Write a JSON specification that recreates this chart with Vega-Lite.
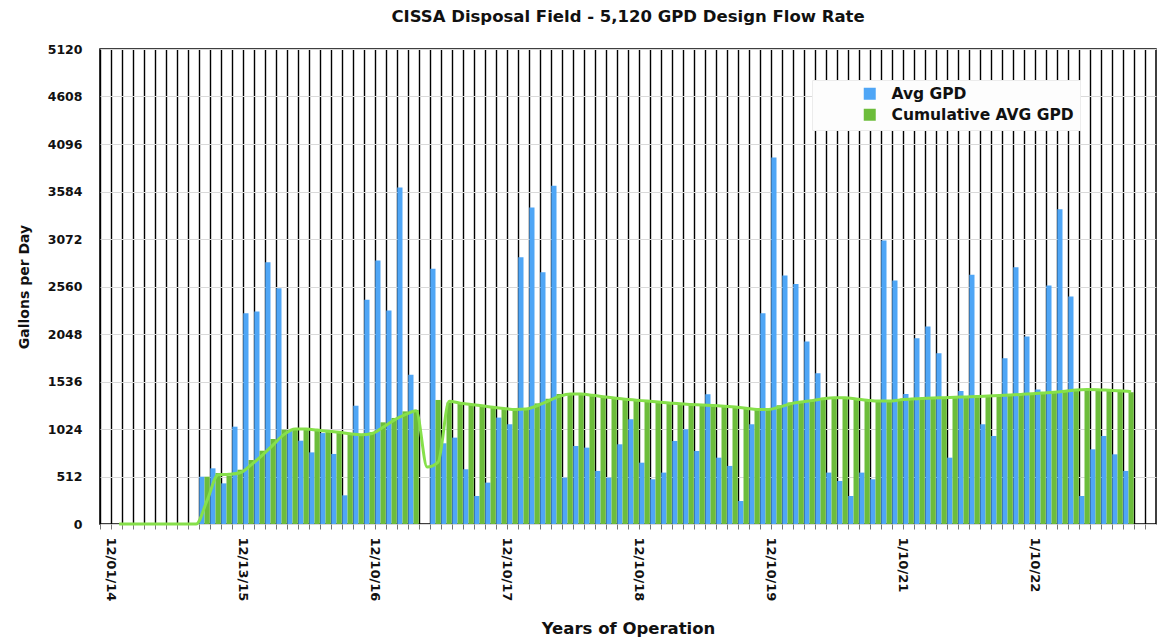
{
  "$schema": "https://vega.github.io/schema/vega-lite/v6.json",
  "autosize": "none",
  "padding": {"left": 100, "top": 49, "right": 4, "bottom": 118},
  "width": 1056,
  "height": 475,
  "title": {"text": "CISSA Disposal Field - 5,120 GPD Design Flow Rate", "font": "DejaVu Sans", "fontSize": 16.5, "fontWeight": "bold", "color": "#111", "offset": 18},
  "config": {
    "view": {"stroke": "black", "strokeWidth": 1.5},
    "font": "DejaVu Sans"
  },
  "data": {"values": [
    {"m":1,"avg":0,"cum":0,"trend":null},
    {"m":2,"avg":0,"cum":0,"trend":0},
    {"m":3,"avg":0,"cum":0,"trend":0},
    {"m":4,"avg":0,"cum":0,"trend":0},
    {"m":5,"avg":0,"cum":0,"trend":0},
    {"m":6,"avg":0,"cum":0,"trend":0},
    {"m":7,"avg":0,"cum":0,"trend":0},
    {"m":8,"avg":0,"cum":0,"trend":0},
    {"m":9,"avg":0,"cum":0,"trend":0},
    {"m":10,"avg":510,"cum":510,"trend":255},
    {"m":11,"avg":600,"cum":550,"trend":530},
    {"m":12,"avg":438,"cum":520,"trend":535},
    {"m":13,"avg":1049,"cum":585,"trend":552},
    {"m":14,"avg":2272,"cum":690,"trend":638},
    {"m":15,"avg":2290,"cum":790,"trend":740},
    {"m":16,"avg":2822,"cum":916,"trend":853},
    {"m":17,"avg":2542,"cum":1017,"trend":966},
    {"m":18,"avg":1010,"cum":1030,"trend":1024},
    {"m":19,"avg":898,"cum":1017,"trend":1024},
    {"m":20,"avg":772,"cum":1006,"trend":1012},
    {"m":21,"avg":980,"cum":995,"trend":1000},
    {"m":22,"avg":755,"cum":981,"trend":988},
    {"m":23,"avg":309,"cum":963,"trend":972},
    {"m":24,"avg":1275,"cum":963,"trend":963},
    {"m":25,"avg":2416,"cum":990,"trend":976},
    {"m":26,"avg":2840,"cum":1096,"trend":1043},
    {"m":27,"avg":2300,"cum":1143,"trend":1120},
    {"m":28,"avg":3627,"cum":1214,"trend":1178},
    {"m":29,"avg":1610,"cum":1230,"trend":1222},
    {"m":30,"avg":0,"cum":0,"trend":615},
    {"m":31,"avg":2750,"cum":1337,"trend":668},
    {"m":32,"avg":870,"cum":1310,"trend":1324},
    {"m":33,"avg":931,"cum":1295,"trend":1302},
    {"m":34,"avg":590,"cum":1283,"trend":1289},
    {"m":35,"avg":302,"cum":1265,"trend":1274},
    {"m":36,"avg":446,"cum":1250,"trend":1258},
    {"m":37,"avg":1147,"cum":1240,"trend":1245},
    {"m":38,"avg":1075,"cum":1230,"trend":1235},
    {"m":39,"avg":2876,"cum":1250,"trend":1240},
    {"m":40,"avg":3412,"cum":1300,"trend":1275},
    {"m":41,"avg":2714,"cum":1350,"trend":1325},
    {"m":42,"avg":3645,"cum":1400,"trend":1375},
    {"m":43,"avg":500,"cum":1405,"trend":1402},
    {"m":44,"avg":841,"cum":1395,"trend":1400},
    {"m":45,"avg":823,"cum":1380,"trend":1388},
    {"m":46,"avg":572,"cum":1365,"trend":1372},
    {"m":47,"avg":500,"cum":1350,"trend":1358},
    {"m":48,"avg":859,"cum":1340,"trend":1345},
    {"m":49,"avg":1129,"cum":1330,"trend":1335},
    {"m":50,"avg":661,"cum":1320,"trend":1325},
    {"m":51,"avg":482,"cum":1310,"trend":1315},
    {"m":52,"avg":554,"cum":1300,"trend":1305},
    {"m":53,"avg":895,"cum":1290,"trend":1295},
    {"m":54,"avg":1021,"cum":1285,"trend":1288},
    {"m":55,"avg":787,"cum":1280,"trend":1282},
    {"m":56,"avg":1398,"cum":1275,"trend":1278},
    {"m":57,"avg":715,"cum":1265,"trend":1270},
    {"m":58,"avg":626,"cum":1255,"trend":1260},
    {"m":59,"avg":248,"cum":1240,"trend":1248},
    {"m":60,"avg":1075,"cum":1230,"trend":1235},
    {"m":61,"avg":2272,"cum":1240,"trend":1235},
    {"m":62,"avg":3951,"cum":1280,"trend":1260},
    {"m":63,"avg":2678,"cum":1310,"trend":1295},
    {"m":64,"avg":2588,"cum":1320,"trend":1315},
    {"m":65,"avg":1966,"cum":1340,"trend":1330},
    {"m":66,"avg":1625,"cum":1360,"trend":1350},
    {"m":67,"avg":554,"cum":1365,"trend":1362},
    {"m":68,"avg":464,"cum":1355,"trend":1360},
    {"m":69,"avg":302,"cum":1340,"trend":1348},
    {"m":70,"avg":554,"cum":1330,"trend":1335},
    {"m":71,"avg":482,"cum":1320,"trend":1325},
    {"m":72,"avg":3056,"cum":1330,"trend":1325},
    {"m":73,"avg":2624,"cum":1345,"trend":1338},
    {"m":74,"avg":1400,"cum":1350,"trend":1348},
    {"m":75,"avg":2002,"cum":1355,"trend":1352},
    {"m":76,"avg":2128,"cum":1360,"trend":1358},
    {"m":77,"avg":1841,"cum":1365,"trend":1362},
    {"m":78,"avg":715,"cum":1368,"trend":1366},
    {"m":79,"avg":1434,"cum":1372,"trend":1370},
    {"m":80,"avg":2686,"cum":1376,"trend":1374},
    {"m":81,"avg":1075,"cum":1382,"trend":1379},
    {"m":82,"avg":949,"cum":1388,"trend":1385},
    {"m":83,"avg":1787,"cum":1394,"trend":1391},
    {"m":84,"avg":2768,"cum":1400,"trend":1397},
    {"m":85,"avg":2020,"cum":1408,"trend":1404},
    {"m":86,"avg":1450,"cum":1415,"trend":1412},
    {"m":87,"avg":2570,"cum":1425,"trend":1420},
    {"m":88,"avg":3394,"cum":1440,"trend":1432},
    {"m":89,"avg":2452,"cum":1450,"trend":1445},
    {"m":90,"avg":302,"cum":1450,"trend":1450},
    {"m":91,"avg":805,"cum":1445,"trend":1448},
    {"m":92,"avg":949,"cum":1440,"trend":1442},
    {"m":93,"avg":751,"cum":1432,"trend":1436},
    {"m":94,"avg":572,"cum":1420,"trend":1426}
  ]},
  "layer": [
    {
      "transform": [{"fold": ["avg", "cum"], "as": ["series", "gpd"]}],
      "mark": {"type": "bar"},
      "encoding": {
        "x": {
          "field": "m", "type": "ordinal",
          "scale": {"domain": [1,2,3,4,5,6,7,8,9,10,11,12,13,14,15,16,17,18,19,20,21,22,23,24,25,26,27,28,29,30,31,32,33,34,35,36,37,38,39,40,41,42,43,44,45,46,47,48,49,50,51,52,53,54,55,56,57,58,59,60,61,62,63,64,65,66,67,68,69,70,71,72,73,74,75,76,77,78,79,80,81,82,83,84,85,86,87,88,89,90,91,92,93,94,95,96], "paddingInner": 0, "paddingOuter": 0},
          "axis": {
            "title": "Years of Operation",
            "titleFont": "DejaVu Sans", "titleFontSize": 16.5, "titleFontWeight": "bold", "titleColor": "#111", "titlePadding": 20,
            "labelAngle": 90, "labelFont": "DejaVu Sans", "labelFontSize": 13, "labelFontWeight": "bold", "labelColor": "#111",
            "labelPadding": 8, "labelOffset": 5.5, "labelOverlap": false,
            "labelExpr": "datum.value == 1 ? '12/01/14' : datum.value == 13 ? '12/13/15' : datum.value == 25 ? '12/10/16' : datum.value == 37 ? '12/10/17' : datum.value == 49 ? '12/10/18' : datum.value == 61 ? '12/10/19' : datum.value == 73 ? '1/10/21' : datum.value == 85 ? '1/10/22' : ''",
            "bandPosition": 0, "grid": true, "gridColor": "#000000", "gridWidth": 1.4,
            "ticks": true, "tickSize": 5, "tickColor": "#777777", "domain": false
          }
        },
        "xOffset": {"field": "series", "type": "nominal", "scale": {"domain": ["avg", "cum"], "paddingInner": 0, "paddingOuter": 0.05}},
        "y": {
          "field": "gpd", "type": "quantitative",
          "scale": {"domain": [0, 5120], "nice": false},
          "axis": {
            "title": "Gallons per Day",
            "titleFont": "DejaVu Sans", "titleFontSize": 14, "titleFontWeight": "bold", "titleColor": "#111", "titlePadding": 16,
            "values": [0,512,1024,1536,2048,2560,3072,3584,4096,4608,5120], "format": "d",
            "labelFont": "DejaVu Sans", "labelFontSize": 12.5, "labelFontWeight": "bold", "labelColor": "#111", "labelPadding": 18,
            "ticks": false, "domain": false, "grid": true, "gridColor": "#d9d9d9", "gridWidth": 1
          }
        },
        "color": {
          "field": "series", "type": "nominal",
          "scale": {"domain": ["avg", "cum"], "range": ["#4fa6f6", "#6cbd3b"]},
          "legend": {
            "title": null, "orient": "none", "legendX": 712, "legendY": 31,
            "labelExpr": "datum.label == 'avg' ? 'Avg GPD' : 'Cumulative AVG GPD'",
            "labelFont": "DejaVu Sans", "labelFontSize": 15.5, "labelFontWeight": "bold", "labelColor": "#111", "labelLimit": 400,
            "symbolType": "square", "symbolSize": 144, "symbolStrokeWidth": 0, "symbolOffset": 44,
            "labelOffset": 14, "rowPadding": 4, "padding": 6,
            "fillColor": "#fdfdfd", "strokeColor": "#ececec"
          }
        }
      }
    },
    {
      "mark": {"type": "line", "color": "#86e04a", "strokeWidth": 3, "interpolate": "monotone"},
      "encoding": {
        "x": {"field": "m", "type": "ordinal", "bandPosition": 0.74},
        "y": {"field": "trend", "type": "quantitative"}
      }
    }
  ]
}
